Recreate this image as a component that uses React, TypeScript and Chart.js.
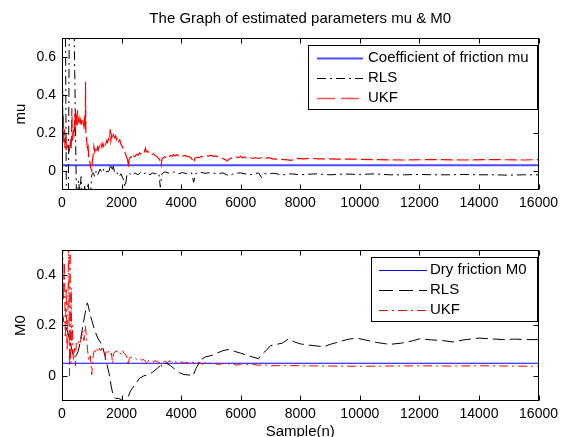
import React, { useEffect, useRef } from 'react';
import { Chart, registerables } from 'chart.js';

Chart.register(...registerables);

// ---------- data ----------
const xTicks = [0, 2000, 4000, 6000, 8000, 10000, 12000, 14000, 16000];
const muTicks = [0, 0.2, 0.4, 0.6];
const m0Ticks = [0, 0.2, 0.4];

const muTrue = 0.03;
const m0True = 0.05;

const rlsMuX = [0, 60, 110, 150, 210, 250, 380, 430, 490, 560, 600, 640, 700, 760, 820, 880, 930, 1000, 1050, 1100, 1150, 1200, 1280, 1350, 1420, 1500, 1580, 1640, 1680, 1720, 1780, 1850, 1920, 1980, 2050, 2120, 2180, 2260, 2350, 2450, 2550, 2650, 2750, 2850, 2950, 3050, 3150, 3250, 3300, 3350, 3450, 3600, 3750, 3900, 4050, 4200, 4350, 4420, 4480, 4600, 4800, 5000, 5200, 5400, 5600, 5800, 6000, 6300, 6600, 6700, 6800, 7100, 7400, 7700, 8000, 8500, 9000, 9500, 10000, 10500, 11000, 11500, 12000, 12500, 13000, 13500, 14000, 14500, 15000, 15500, 16000];
const rlsMuY = [1.0, 0.9, 1.0, -0.3, -0.3, 1.0, 1.0, 0.5, -0.2, -0.05, -0.12, -0.03, -0.2, -0.08, -0.15, -0.06, -0.2, -0.02, -0.01, -0.03, 0.0, -0.02, 0.01, -0.01, 0.015, -0.005, 0.0, 0.035, 0.0, 0.025, -0.015, -0.01, -0.03, -0.015, -0.04, -0.085, -0.02, -0.01, -0.025, -0.01, -0.02, -0.005, -0.015, -0.005, -0.02, -0.01, -0.015, -0.01, -0.085, -0.015, -0.005, -0.012, -0.005, -0.015, -0.008, -0.015, -0.01, -0.06, -0.015, -0.005, -0.012, -0.008, -0.015, -0.01, -0.025, -0.012, -0.01, -0.02, -0.01, -0.035, -0.015, -0.012, -0.02, -0.015, -0.02, -0.015, -0.02, -0.016, -0.018, -0.015, -0.02, -0.02, -0.018, -0.02, -0.02, -0.018, -0.02, -0.02, -0.022, -0.02, -0.02];

const ukfMuX = [0, 10, 20, 30, 45, 60, 80, 100, 120, 140, 160, 190, 220, 250, 280, 310, 330, 350, 380, 410, 430, 450, 480, 500, 520, 540, 570, 600, 630, 660, 700, 730, 760, 780, 790, 800, 830, 860, 880, 900, 930, 960, 1000, 1020, 1050, 1070, 1100, 1130, 1160, 1190, 1220, 1250, 1280, 1310, 1340, 1370, 1400, 1430, 1460, 1500, 1530, 1560, 1590, 1620, 1640, 1670, 1700, 1730, 1760, 1800, 1830, 1860, 1900, 1940, 1980, 2020, 2060, 2100, 2140, 2180, 2210, 2230, 2250, 2280, 2320, 2360, 2400, 2450, 2500, 2550, 2600, 2650, 2700, 2750, 2800, 2830, 2870, 2920, 2970, 3020, 3080, 3130, 3180, 3230, 3280, 3330, 3360, 3400, 3450, 3500, 3550, 3600, 3650, 3700, 3750, 3800, 3860, 3920, 4000, 4060, 4120, 4200, 4280, 4350, 4430, 4460, 4520, 4600, 4680, 4760, 4840, 4920, 5000, 5080, 5160, 5240, 5320, 5400, 5480, 5550, 5600, 5680, 5760, 5840, 5920, 6000, 6060, 6120, 6200, 6300, 6400, 6500, 6600, 6700, 6800, 6900, 7000, 7100, 7300, 7500, 7700, 7800, 7900, 8100, 8300, 8600, 8800, 9300, 9800, 10500, 11500, 12500, 13500, 14500, 15500, 16000];
const ukfMuY = [0.8, 0.25, 0.44, 0.2, 0.3, 0.15, 0.22, 0.12, 0.18, 0.11, 0.14, 0.12, 0.13, 0.11, 0.15, 0.12, 0.33, 0.16, 0.22, 0.18, 0.3, 0.25, 0.28, 0.24, 0.32, 0.26, 0.28, 0.24, 0.27, 0.25, 0.27, 0.24, 0.29, 0.22, 0.47, 0.2, 0.16, 0.1, 0.12, 0.06, 0.05, 0.02, 0.0, 0.05, 0.09, 0.13, 0.1, 0.12, 0.105, 0.125, 0.11, 0.13, 0.12, 0.14, 0.125, 0.145, 0.13, 0.15, 0.14, 0.16, 0.15, 0.17, 0.16, 0.22, 0.16, 0.19, 0.17, 0.19, 0.175, 0.185, 0.165, 0.175, 0.155, 0.165, 0.14, 0.13, 0.115, 0.1, 0.085, 0.07, 0.05, 0.02, 0.06, 0.07, 0.075, 0.065, 0.08, 0.075, 0.088, 0.082, 0.095, 0.09, 0.1, 0.095, 0.12, 0.1, 0.105, 0.095, 0.097, 0.088, 0.09, 0.08, 0.078, 0.068, 0.06, 0.03, 0.065, 0.07, 0.075, 0.07, 0.08, 0.076, 0.082, 0.078, 0.086, 0.08, 0.086, 0.08, 0.085, 0.079, 0.082, 0.077, 0.075, 0.066, 0.045, 0.068, 0.072, 0.07, 0.077, 0.074, 0.08, 0.078, 0.083, 0.077, 0.079, 0.074, 0.071, 0.066, 0.06, 0.053, 0.062, 0.068, 0.07, 0.074, 0.07, 0.078, 0.07, 0.074, 0.068, 0.072, 0.066, 0.07, 0.066, 0.07, 0.064, 0.07, 0.068, 0.063, 0.062, 0.06, 0.056, 0.062, 0.066, 0.064, 0.067, 0.064, 0.064, 0.063, 0.062, 0.06, 0.058, 0.06, 0.058, 0.06, 0.058, 0.06];

const rlsM0X = [0, 50, 100, 150, 200, 260, 320, 380, 430, 480, 550, 620, 700, 780, 850, 880, 930, 1000, 1100, 1200, 1280, 1350, 1420, 1500, 1580, 1650, 1720, 1800, 1900, 2000, 2100, 2200, 2300, 2450, 2600, 2750, 2900, 3050, 3200, 3350, 3500, 3650, 3800, 3950, 4100, 4300, 4400, 4500, 4600, 4650, 4800, 5000, 5200, 5400, 5600, 5800, 6000, 6200, 6400, 6600, 6700, 6850, 7000, 7200, 7400, 7600, 7800, 8000, 8300, 8600, 8800, 9000, 9300, 9600, 9900, 10200, 10600, 11000, 11400, 11800, 12000, 12400, 12800, 13100, 13500, 14000, 14400, 14800, 15200, 15600, 16000];
const rlsM0Y = [0.26, 0.22, 0.2, 0.19, 0.17, 0.14, 0.11, 0.08, 0.075, 0.08, 0.1, 0.14, 0.2, 0.25, 0.29, 0.28, 0.25, 0.22, 0.18, 0.15, 0.135, 0.12, 0.09, 0.05, 0.01, -0.04, -0.08, -0.09, -0.09, -0.095, -0.1, -0.09, -0.06, -0.035, -0.01, 0.0, 0.005, 0.015, 0.03, 0.045, 0.05, 0.04, 0.025, 0.012, 0.005, 0.003, 0.0, 0.03, 0.05, 0.062, 0.075, 0.08, 0.09, 0.1, 0.105, 0.097, 0.09, 0.082, 0.075, 0.068, 0.085, 0.1, 0.12, 0.125, 0.13, 0.147, 0.135, 0.127, 0.122, 0.118, 0.116, 0.125, 0.135, 0.145, 0.15, 0.142, 0.132, 0.125, 0.13, 0.14, 0.147, 0.143, 0.14, 0.135, 0.143, 0.15, 0.147, 0.144, 0.146, 0.144, 0.144];

const ukfM0X = [0, 20, 50, 80, 110, 140, 170, 200, 220, 250, 270, 290, 310, 330, 350, 380, 420, 450, 480, 520, 560, 600, 650, 700, 740, 780, 820, 860, 900, 950, 1000, 1030, 1060, 1100, 1140, 1180, 1220, 1260, 1300, 1340, 1380, 1420, 1450, 1480, 1530, 1580, 1620, 1660, 1700, 1730, 1780, 1830, 1880, 1930, 1980, 2030, 2080, 2130, 2180, 2220, 2260, 2320, 2380, 2450, 2520, 2600, 2680, 2750, 2800, 2850, 2900, 2980, 3060, 3140, 3220, 3300, 3330, 3370, 3450, 3530, 3600, 3700, 3800, 3900, 4000, 4100, 4200, 4300, 4400, 4500, 4600, 4700, 4800, 4950, 5100, 5250, 5400, 5550, 5700, 5850, 6000, 6200, 6400, 6600, 6800, 7000, 7500, 8000, 9000, 10000, 11000, 12000, 13000, 14000, 15000, 16000];
const ukfM0Y = [0.05, 0.55, 0.3, 0.45, 0.15, 0.35, 0.1, 0.25, 0.55, 0.0, 0.5, 0.05, 0.35, 0.12, 0.2, 0.06, 0.11, 0.04, 0.13, 0.12, 0.14, 0.13, 0.15, 0.18, 0.14, 0.2, 0.16, 0.1, 0.06, 0.08, 0.005, 0.06, 0.09, 0.1, 0.09, 0.105, 0.095, 0.11, 0.1, 0.11, 0.1, 0.095, 0.065, 0.1, 0.09, 0.1, 0.085, 0.09, 0.05, 0.09, 0.095, 0.1, 0.09, 0.095, 0.085, 0.1, 0.09, 0.085, 0.075, 0.04, 0.07, 0.075, 0.068, 0.072, 0.065, 0.07, 0.062, 0.065, 0.058, 0.045, 0.06, 0.062, 0.055, 0.06, 0.055, 0.05, 0.035, 0.055, 0.058, 0.052, 0.06, 0.054, 0.057, 0.052, 0.056, 0.05, 0.054, 0.048, 0.055, 0.05, 0.054, 0.046, 0.052, 0.048, 0.05, 0.045, 0.049, 0.046, 0.05, 0.042, 0.047, 0.044, 0.046, 0.042, 0.044, 0.04, 0.041, 0.04, 0.039, 0.038, 0.039, 0.04, 0.039, 0.04, 0.039, 0.038];

const topTitle = 'The Graph of estimated parameters mu & M0';
const topYLabel = 'mu';
const bottomYLabel = 'M0';
const bottomXLabel = 'Sample(n)';
const topLegendLabels = ['Coefficient of friction mu', 'RLS', 'UKF'];
const bottomLegendLabels = ['Dry friction M0', 'RLS', 'UKF'];

// ---------- styling ----------
const FONT = '"Liberation Sans", Arial, sans-serif';
const DASH = [12, 4];
const DASHDOT = [9, 4, 2, 4];

const pts = (xs: number[], ys: number[]) => xs.map((x, i) => ({ x, y: ys[i] }));
const flat = (v: number) => [{ x: 0, y: v }, { x: 16000, y: v }];

type LegendItem = { label: string; color: string; dash: number[]; width: number };

const framePlugin = {
  id: 'matlabFrame',
  afterDraw(chart: any, _args: any, opts: any) {
    const { ctx, chartArea: a } = chart;
    const xs = chart.scales.x;
    const ys = chart.scales.y;
    ctx.save();
    ctx.strokeStyle = '#000';
    ctx.lineWidth = 1;
    ctx.setLineDash([]);
    const L = Math.round(a.left) + 0.5;
    const R = Math.round(a.right) - 0.5;
    const T = Math.round(a.top) + 0.5;
    const B = Math.round(a.bottom) - 0.5;
    ctx.strokeRect(L, T, R - L, B - T);
    const tl = 5;
    ctx.beginPath();
    xs.ticks.forEach((t: any) => {
      const px = Math.round(xs.getPixelForValue(t.value)) + 0.5;
      ctx.moveTo(px, B); ctx.lineTo(px, B - tl);
      ctx.moveTo(px, T); ctx.lineTo(px, T + tl);
    });
    ys.ticks.forEach((t: any) => {
      const py = Math.round(ys.getPixelForValue(t.value)) + 0.5;
      ctx.moveTo(L, py); ctx.lineTo(L + tl, py);
      ctx.moveTo(R, py); ctx.lineTo(R - tl, py);
    });
    ctx.stroke();

    // legend
    const lg = opts.legend;
    if (lg) {
      ctx.fillStyle = '#fff';
      ctx.fillRect(lg.x1, lg.y1, lg.x2 - lg.x1, lg.y2 - lg.y1);
      ctx.strokeStyle = '#000';
      ctx.lineWidth = 1;
      ctx.strokeRect(lg.x1 + 0.5, lg.y1 + 0.5, lg.x2 - lg.x1, lg.y2 - lg.y1);
      ctx.font = '15px ' + FONT;
      ctx.textBaseline = 'middle';
      ctx.textAlign = 'left';
      (lg.items as LegendItem[]).forEach((it, i) => {
        const y = lg.rowY[i];
        ctx.beginPath();
        ctx.strokeStyle = it.color;
        ctx.lineWidth = it.width;
        ctx.setLineDash(it.dash);
        ctx.moveTo(lg.lineX1, Math.round(y) + 0.5);
        ctx.lineTo(lg.lineX2, Math.round(y) + 0.5);
        ctx.stroke();
        ctx.setLineDash([]);
        ctx.fillStyle = '#000';
        ctx.fillText(it.label, lg.textX, y);
      });
    }

    ctx.fillStyle = '#000';
    ctx.textAlign = 'center';
    ctx.textBaseline = 'middle';
    ctx.font = '15px ' + FONT;
    if (opts.title) {
      ctx.fillText(opts.title, (a.left + a.right) / 2, opts.titleY);
    }
    if (opts.xLabel) {
      ctx.fillText(opts.xLabel, (a.left + a.right) / 2, opts.xLabelY);
    }
    if (opts.yLabel) {
      ctx.save();
      ctx.translate(opts.yLabelX, (a.top + a.bottom) / 2);
      ctx.rotate(-Math.PI / 2);
      ctx.fillText(opts.yLabel, 0, 0);
      ctx.restore();
    }
    ctx.restore();
  },
};

function makeOptions(ymin: number, ymax: number, yTicks: number[], padTop: number, xHeight: number, frame: any) {
  const tickFont = { family: FONT, size: 14 };
  return {
    animation: false,
    responsive: false,
    maintainAspectRatio: false,
    devicePixelRatio: 1,
    layout: { padding: { top: padTop, right: 21, left: 0, bottom: 0 } },
    plugins: {
      legend: { display: false },
      tooltip: { enabled: false },
      title: { display: false },
      matlabFrame: frame,
    },
    elements: { point: { radius: 0 }, line: { tension: 0 } },
    scales: {
      x: {
        type: 'linear',
        min: 0,
        max: 16000,
        grid: { display: false, drawTicks: false },
        border: { display: false },
        afterBuildTicks: (s: any) => { s.ticks = xTicks.map((v) => ({ value: v })); },
        afterFit: (s: any) => { s.height = xHeight; },
        ticks: { font: tickFont, color: '#000', padding: 5, maxRotation: 0, autoSkip: false, callback: (v: any) => String(v) },
      },
      y: {
        type: 'linear',
        min: ymin,
        max: ymax,
        grid: { display: false, drawTicks: false },
        border: { display: false },
        afterBuildTicks: (s: any) => { s.ticks = yTicks.map((v) => ({ value: v })); },
        afterFit: (s: any) => { s.width = 62; },
        ticks: { font: tickFont, color: '#000', padding: 6, autoSkip: false, callback: (v: any) => String(v) },
      },
    },
  };
}

export default function App() {
  const topRef = useRef<HTMLCanvasElement>(null);
  const botRef = useRef<HTMLCanvasElement>(null);

  useEffect(() => {
    document.body.style.margin = '0';
    const topBlue = '#4b4bff';
    const red = '#ff0000';
    const blue = '#0000ff';

    const c1 = new Chart(topRef.current as HTMLCanvasElement, {
      type: 'line',
      data: {
        datasets: [
          { label: topLegendLabels[0], data: flat(muTrue), borderColor: topBlue, borderWidth: 2, order: 3 },
          { label: topLegendLabels[1], data: pts(rlsMuX, rlsMuY), borderColor: '#000', borderWidth: 1, borderDash: DASHDOT, order: 2 },
          { label: topLegendLabels[2], data: pts(ukfMuX, ukfMuY), borderColor: red, borderWidth: 1.2, borderDash: DASH, order: 1 },
        ],
      },
      options: makeOptions(-0.1, 0.7, muTicks, 38, 30, {
        title: topTitle,
        titleY: 19,
        yLabel: topYLabel,
        yLabelX: 21,
        legend: {
          x1: 308, y1: 45, x2: 537, y2: 109,
          lineX1: 317, lineX2: 363, textX: 368,
          rowY: [58, 78, 98],
          items: [
            { label: topLegendLabels[0], color: topBlue, dash: [], width: 2 },
            { label: topLegendLabels[1], color: '#000', dash: DASHDOT, width: 1 },
            { label: topLegendLabels[2], color: '#ff5050', dash: [18, 6], width: 1.5 },
          ],
        },
      }) as any,
      plugins: [framePlugin],
    });

    const c2 = new Chart(botRef.current as HTMLCanvasElement, {
      type: 'line',
      data: {
        datasets: [
          { label: bottomLegendLabels[0], data: flat(m0True), borderColor: blue, borderWidth: 1, order: 3 },
          { label: bottomLegendLabels[1], data: pts(rlsM0X, rlsM0Y), borderColor: '#000', borderWidth: 1, borderDash: [12, 5], order: 2 },
          { label: bottomLegendLabels[2], data: pts(ukfM0X, ukfM0Y), borderColor: red, borderWidth: 1, borderDash: DASHDOT, order: 1 },
        ],
      },
      options: makeOptions(-0.1, 0.5, m0Ticks, 30, 36, {
        xLabel: bottomXLabel,
        xLabelY: 212,
        yLabel: bottomYLabel,
        yLabelX: 21,
        legend: {
          x1: 371, y1: 37, x2: 537, y2: 101,
          lineX1: 379, lineX2: 427, textX: 430,
          rowY: [50, 70, 90],
          items: [
            { label: bottomLegendLabels[0], color: blue, dash: [], width: 1 },
            { label: bottomLegendLabels[1], color: '#000', dash: [14, 6], width: 1 },
            { label: bottomLegendLabels[2], color: red, dash: DASHDOT, width: 1 },
          ],
        },
      }) as any,
      plugins: [framePlugin],
    });

    return () => {
      c1.destroy();
      c2.destroy();
    };
  }, []);

  return (
    <div style={{ position: 'fixed', left: 0, top: 0, width: 563, height: 437, background: '#fff', overflow: 'hidden' }}>
      <canvas ref={topRef} width={563} height={220} style={{ position: 'absolute', left: 0, top: 0, width: 563, height: 220 }} />
      <canvas ref={botRef} width={563} height={217} style={{ position: 'absolute', left: 0, top: 220, width: 563, height: 217 }} />
    </div>
  );
}
